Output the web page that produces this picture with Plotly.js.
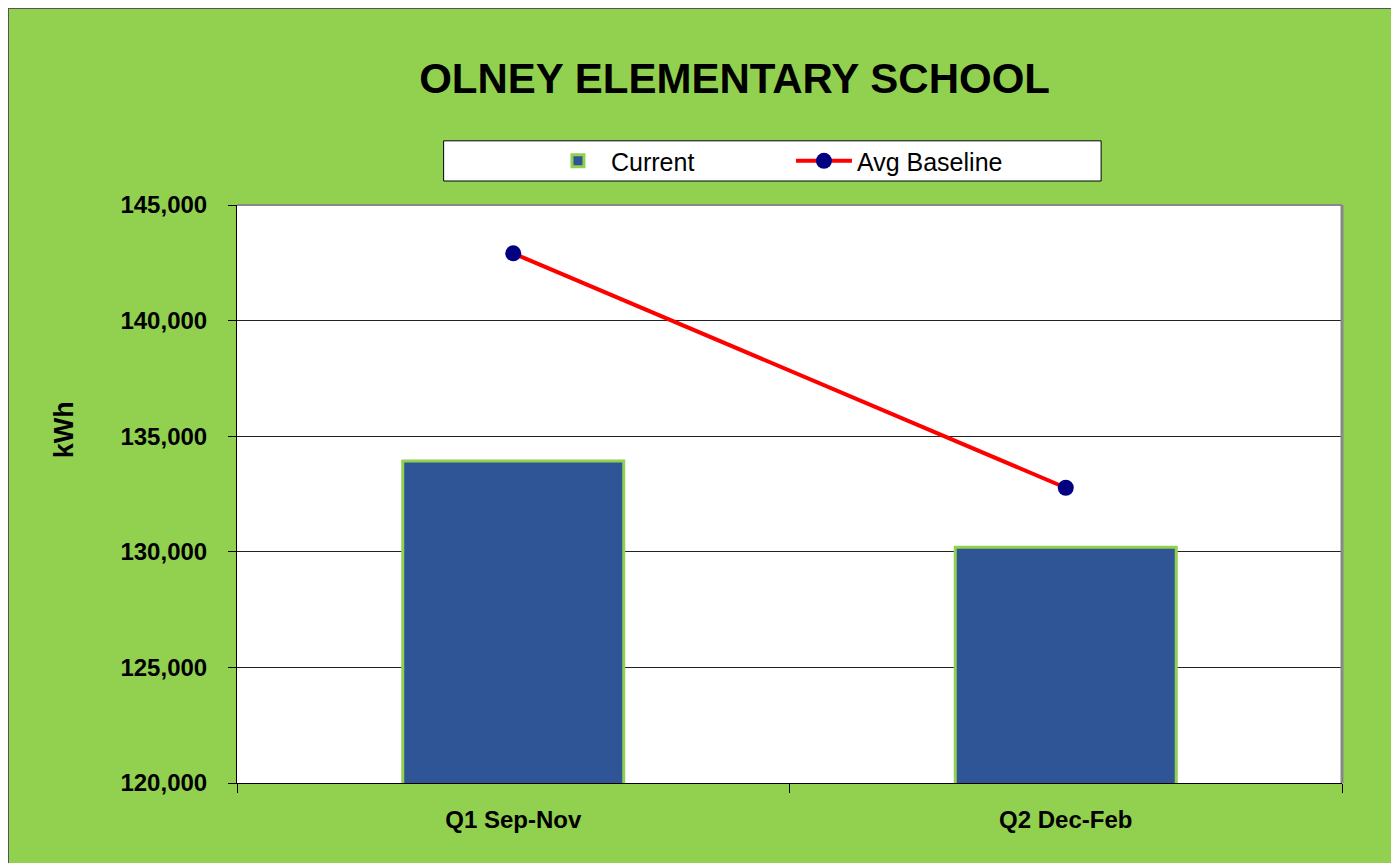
<!DOCTYPE html>
<html>
<head>
<meta charset="utf-8">
<script src="https://cdn.plot.ly/plotly-3.0.1.min.js"></script>
<style>
    body { margin: 0; background: #fff; overflow: hidden; }
    #chart { margin-left: 8px; margin-top: 8px; width: 1382px; height: 854px; border-left: 1px solid #555; border-top: 1px solid #555; }
</style>
</head>
<body>
<div id="chart"></div>
<script>
const quarters = ['Q1 Sep-Nov', 'Q2 Dec-Feb'];
const currentKwh = [133930, 130200];
const baselineKwh = [142910, 132770];
const yTicks = [120000, 125000, 130000, 135000, 140000, 145000];

const font = 'Liberation Sans, Arial, sans-serif';

const traces = [
    {
        type: 'bar',
        name: 'Current',
        x: quarters,
        y: currentKwh,
        width: 0.4,
        marker: {color: '#2F5597', line: {color: '#92D050', width: 3}},
        hoverinfo: 'skip'
    },
    {
        type: 'scatter',
        mode: 'lines+markers',
        name: 'Avg Baseline',
        x: quarters,
        y: baselineKwh,
        line: {color: '#FF0000', width: 4},
        marker: {color: '#000080', size: 16},
        cliponaxis: false,
        hoverinfo: 'skip'
    }
];

const layout = {
    width: 1382,
    height: 854,
    paper_bgcolor: '#92D050',
    plot_bgcolor: '#FFFFFF',
    margin: {l: 228, r: 49, t: 196, b: 80},
    font: {family: font, color: '#000'},
    title: {
        text: '<b>OLNEY ELEMENTARY SCHOOL</b>',
        font: {family: font, size: 42, color: '#000'},
        xref: 'container', x: 0.525, xanchor: 'center',
        yref: 'container', y: 0.919, yanchor: 'middle'
    },
    showlegend: true,
    legend: {
        orientation: 'h',
        x: 0.2787, xanchor: 'left',
        y: 1.076, yanchor: 'middle',
        bgcolor: 'rgba(0,0,0,0)',
        itemwidth: 56,
        entrywidth: 175,
        entrywidthmode: 'pixels',
        font: {family: font, size: 25, color: '#000'}
    },
    shapes: [
        // legend box
        {
            type: 'rect', xref: 'paper', yref: 'paper',
            x0: 0.187, x1: 0.782, y0: 1.0415, y1: 1.111,
            fillcolor: '#FFFFFF', line: {color: '#000', width: 1}, layer: 'below'
        },
        // grey plot-area frame on right and top
        {
            type: 'line', xref: 'paper', yref: 'paper',
            x0: 1, x1: 1, y0: 0, y1: 1,
            line: {color: '#888', width: 3}, layer: 'above'
        },
        {
            type: 'line', xref: 'paper', yref: 'paper',
            x0: 0, x1: 1, y0: 1, y1: 1,
            line: {color: '#888', width: 2}, layer: 'above'
        }
    ],
    annotations: [
        {
            text: '<b>kWh</b>',
            xref: 'paper', yref: 'paper',
            x: -0.1725, y: 0.611,
            textangle: -90,
            showarrow: false,
            font: {family: font, size: 27, color: '#000'}
        }
    ],
    xaxis: {
        type: 'category',
        tickson: 'boundaries',
        ticks: 'outside',
        ticklen: 9,
        tickcolor: '#000',
        ticklabelstandoff: 15,
        showline: true,
        linecolor: '#000',
        linewidth: 1,
        showgrid: false,
        tickfont: {family: font, size: 24, color: '#000', weight: 'bold'},
        fixedrange: true
    },
    yaxis: {
        range: [120000, 145000],
        tickvals: yTicks,
        tickformat: ',d',
        ticks: 'outside',
        ticklen: 8,
        tickcolor: '#000',
        ticklabelstandoff: 16,
        showline: true,
        linecolor: '#000',
        linewidth: 1,
        gridcolor: '#222',
        gridwidth: 1,
        zeroline: false,
        tickfont: {family: font, size: 24, color: '#000', weight: 'bold'},
        fixedrange: true
    }
};

Plotly.newPlot('chart', traces, layout, {displayModeBar: false, staticPlot: true});
</script>
</body>
</html>
